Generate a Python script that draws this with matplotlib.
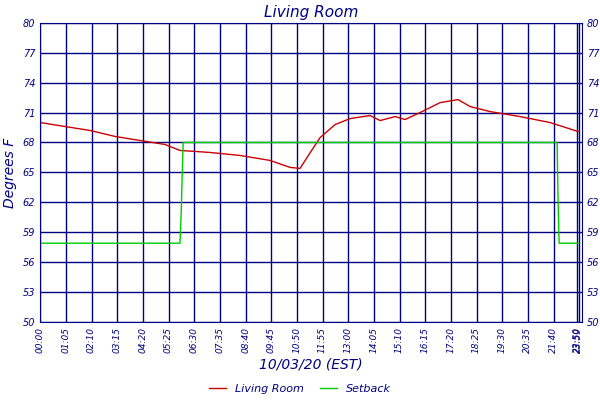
import matplotlib
matplotlib.use("Agg")
import matplotlib.pyplot as plt

# red line: x position in axis units (65 per labelled step), degrees F
room_x = [0, 63, 127, 190, 253, 316, 354, 430, 506, 582, 633, 658, 684, 709, 747,
          785, 835, 861, 899, 924, 962, 1013, 1058, 1089, 1139, 1215, 1291, 1362]
room_temp = [70.0, 69.6, 69.2, 68.6, 68.2, 67.8, 67.2, 67.0, 66.7, 66.2, 65.5, 65.4, 67.0,
             68.5, 69.8, 70.4, 70.7, 70.2, 70.6, 70.3, 71.0, 72.0, 72.3, 71.6, 71.1,
             70.6, 70.0, 69.1]
set_x = [0, 354, 357, 362, 1309, 1311, 1314, 1362]
set_temp = [57.9, 57.9, 61.0, 68.0, 68.0, 63.0, 57.9, 57.9]

ticks = list(range(0, 1301, 65)) + [1360, 1364]
tick_labels = ["%02d:%02d" % (t // 60, t % 60) for t in range(0, 1301, 65)] + ["23:50", "23:59"]
yticks = [50, 53, 56, 59, 62, 65, 68, 71, 74, 77, 80]

navy = "#000080"
font = dict(family="DejaVu Sans", style="italic", color=navy)

fig = plt.figure(figsize=(6, 4), dpi=100)
ax = fig.add_axes([0.067, 0.195, 0.903, 0.748])
ax.plot(room_x, room_temp, color="#cc0000", lw=1, label="Living Room")
ax.plot(set_x, set_temp, color="#00cc00", lw=1, label="Setback")
ax.set_xlim(0, 1372)
ax.set_ylim(50, 80)
ax.set_xticks(ticks)
ax.set_xticklabels(tick_labels, rotation=90, fontsize=6.5, **font)
ax.set_yticks(yticks)
ax.set_yticklabels([str(v) for v in yticks], fontsize=7, **font)
ax.tick_params(length=0, labelright=True, right=False)
ax.grid(True, color=navy, lw=1)
for s in ax.spines.values():
    s.set_color(navy)
ax.set_title("Living Room", fontsize=11, pad=4, **font)
ax.set_xlabel("10/03/20 (EST)", fontsize=10, labelpad=3, **font)
ax.set_ylabel("Degrees F", fontsize=10, labelpad=4, **font)
leg = fig.legend(loc="center", bbox_to_anchor=(0.5, 0.028), ncol=2, frameon=False,
                 prop=dict(family="DejaVu Sans", style="italic", size=8),
                 handlelength=1.5, columnspacing=1.5)
for t in leg.get_texts():
    t.set_color(navy)
fig.savefig("out.png")
